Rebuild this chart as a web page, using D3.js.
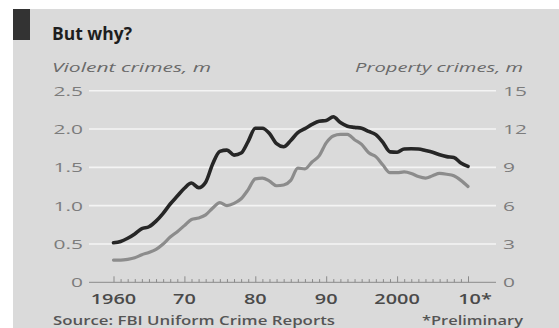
<!DOCTYPE html>
<html><head><meta charset="utf-8">
<script src="https://cdn.jsdelivr.net/npm/d3@7/dist/d3.min.js"></script>
<style>
body{margin:0;background:#fff}
svg{display:block}
text{font-family:"Open Sans",sans-serif}
</style></head>
<body><svg id="c" width="559" height="328"></svg>
<script>
// ---------- data ----------
const years = [1960,1961,1962,1963,1964,1965,1966,1967,1968,1969,
  1970,1971,1972,1973,1974,1975,1976,1977,1978,1979,
  1980,1981,1982,1983,1984,1985,1986,1987,1988,1989,
  1990,1991,1992,1993,1994,1995,1996,1997,1998,1999,
  2000,2001,2002,2003,2004,2005,2006,2007,2008,2009,2010];
// Violent crimes, m (left axis, grey line)
const violent = [0.29,0.29,0.30,0.32,0.36,0.39,0.43,0.50,0.59,0.66,
  0.74,0.82,0.84,0.88,0.97,1.04,1.00,1.03,1.09,1.21,
  1.35,1.36,1.32,1.26,1.27,1.33,1.49,1.48,1.57,1.65,
  1.82,1.91,1.93,1.93,1.86,1.80,1.69,1.64,1.53,1.43,
  1.43,1.44,1.42,1.38,1.36,1.39,1.42,1.41,1.39,1.33,1.25];
// Property crimes, m (right axis, black line)
const property = [3.10,3.20,3.45,3.79,4.20,4.35,4.79,5.40,6.13,6.75,
  7.36,7.77,7.41,7.84,9.28,10.25,10.35,9.96,10.12,11.04,
  12.06,12.06,11.65,10.85,10.61,11.10,11.72,12.03,12.36,12.61,
  12.66,12.96,12.51,12.22,12.13,12.06,11.81,11.56,10.95,10.21,
  10.18,10.44,10.46,10.44,10.32,10.18,9.98,9.84,9.77,9.34,9.08];
const leftTicks = [0,0.5,1.0,1.5,2.0,2.5];
const leftTickLabels = ["0","0.5","1.0","1.5","2.0","2.5"];
const rightTicks = [0,3,6,9,12,15];
const xTicks = [1960,1970,1980,1990,2000,2010];
const xTickLabels = ["1960","70","80","90","2000","10*"];

// ---------- layout ----------
const svg = d3.select("#c");
const W = 559, H = 328;
const bg = "#dadada";

svg.append("rect").attr("x",13).attr("y",9).attr("width",W-13).attr("height",H-9).attr("fill",bg);
svg.append("rect").attr("x",13).attr("y",9).attr("width",17).attr("height",31).attr("fill","#333");

const x = d3.scaleLinear().domain([1960,2010]).range([113.5,468]);
const yL = d3.scaleLinear().domain([0,2.5]).range([282.3,90.7]);
const yR = d3.scaleLinear().domain([0,15]).range([282.3,90.7]);
const gx0 = 89, gx1 = 496;

function stretch(sel, k){
  sel.each(function(){
    const w = this.getComputedTextLength();
    d3.select(this).attr("textLength", w*k).attr("lengthAdjust","spacingAndGlyphs");
  });
}
function fitTo(sel, w){
  sel.attr("textLength", w).attr("lengthAdjust","spacingAndGlyphs");
}

// gridlines
svg.append("g").selectAll("line").data(leftTicks.filter(d=>d>0)).join("line")
  .attr("x1",gx0).attr("x2",gx1)
  .attr("y1",d=>yL(d)).attr("y2",d=>yL(d))
  .attr("stroke","#f4f4f4").attr("stroke-width",1.6);

// zero line
svg.append("line").attr("x1",gx0).attr("x2",gx1).attr("y1",yL(0)).attr("y2",yL(0))
  .attr("stroke","#8a8a8a").attr("stroke-width",1);

// year ticks
const xAxis = d3.axisTop(x).tickValues(years).tickSize(0).tickFormat("");
const gAx = svg.append("g").attr("transform",`translate(0,${yL(0)})`).call(xAxis);
gAx.select(".domain").remove();
gAx.selectAll(".tick line").remove();
gAx.selectAll(".tick").append("line")
  .attr("y1",0).attr("y2",d=>xTicks.includes(d)? -6 : -3.2)
  .attr("stroke","#8a8a8a").attr("stroke-width",1);

// left labels
const lt = svg.append("g").selectAll("text").data(leftTicks).join("text")
  .attr("x",83).attr("y",d=>yL(d)).attr("dy","0.36em")
  .attr("text-anchor","end").attr("font-size",13.5).attr("fill","#7c7c7c")
  .text((d,i)=>leftTickLabels[i]);
stretch(lt,1.55);

// right labels
const rt = svg.append("g").selectAll("text").data(rightTicks).join("text")
  .attr("x",503).attr("y",d=>yR(d)).attr("dy","0.36em")
  .attr("text-anchor","start").attr("font-size",13.5).attr("fill","#7c7c7c")
  .text(d=>d);
stretch(rt,1.55);

// x labels
const xl = svg.append("g").selectAll("text").data(xTicks).join("text")
  .attr("x",d=>x(d)).attr("y",304)
  .attr("text-anchor","middle").attr("font-size",14).attr("font-weight",600).attr("fill","#4a4a4a")
  .text((d,i)=>xTickLabels[i]);
stretch(xl,1.42);
xl.filter(d=>d===2010).attr("x",x(2010)+7);

// lines
const lineV = d3.line().x((d,i)=>x(years[i])).y(d=>yL(d)).curve(d3.curveMonotoneX);
const lineP = d3.line().x((d,i)=>x(years[i])).y(d=>yR(d)).curve(d3.curveMonotoneX);
svg.append("path").datum(violent).attr("d",lineV).attr("fill","none")
  .attr("stroke","#8c8c8c").attr("stroke-width",3.2).attr("stroke-linejoin","round").attr("stroke-linecap","round");
svg.append("path").datum(property).attr("d",lineP).attr("fill","none")
  .attr("stroke","#262626").attr("stroke-width",3.6).attr("stroke-linejoin","round").attr("stroke-linecap","round");

// titles
svg.append("text").attr("x",52).attr("y",40).attr("font-size",18).attr("font-weight",700)
  .attr("fill","#1e1e1e").text("But why?").call(fitTo,80);
svg.append("text").attr("x",52).attr("y",72).attr("font-size",13).attr("font-style","italic")
  .attr("fill","#6a6a6a").text("Violent crimes, m").call(fitTo,159);
svg.append("text").attr("x",523).attr("y",72).attr("font-size",13).attr("font-style","italic")
  .attr("text-anchor","end").attr("fill","#6a6a6a").text("Property crimes, m").call(fitTo,168);
svg.append("text").attr("x",53).attr("y",325).attr("font-size",12.5).attr("font-weight",600)
  .attr("fill","#555").text("Source: FBI Uniform Crime Reports").call(fitTo,282);
svg.append("text").attr("x",523).attr("y",325).attr("font-size",12.5).attr("font-weight",600)
  .attr("text-anchor","end").attr("fill","#555").text("*Preliminary").call(fitTo,101);
</script>
</body></html>
